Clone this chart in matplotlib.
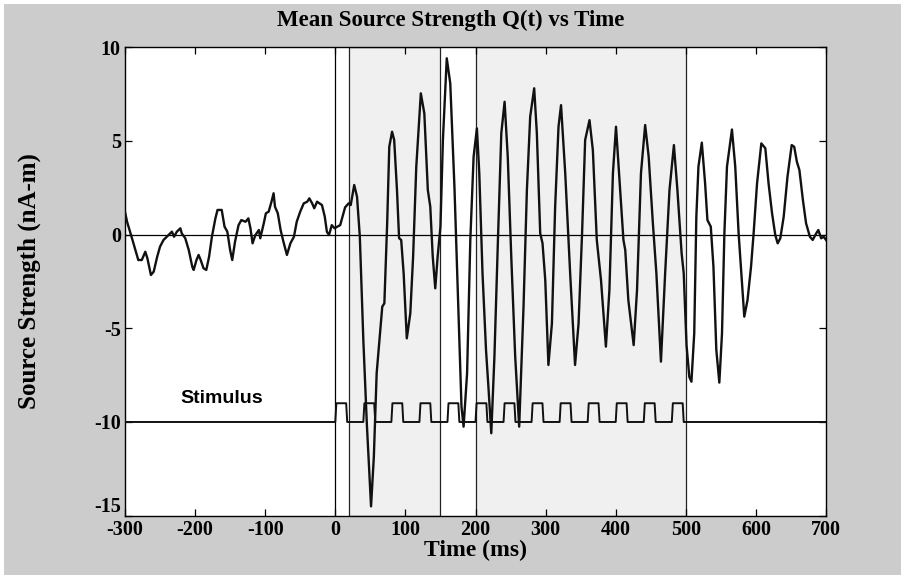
import matplotlib
matplotlib.use("Agg")
import matplotlib.pyplot as plt
from matplotlib.patches import Rectangle

plt.rcParams["axes.unicode_minus"] = False

# mean source strength Q(t) (ms, nA-m)
time_ms = [-300, -297, -290, -281, -276, -271, -268, -263, -259, -254, -250, -245,
           -238, -233, -230, -226, -221, -219, -214, -209, -204, -202, -198, -195,
           -192, -188, -184, -180, -176, -171, -168, -162, -158, -154, -150, -147,
           -143, -138, -134, -128, -124, -121, -118, -114, -109, -107, -102, -99,
           -95, -91, -88, -86, -82, -78, -74, -69, -64, -59, -55, -50, -45, -40,
           -37, -33, -30, -26, -19, -15, -12, -9, -5, -1, 2, 7, 14, 19, 22, 27,
           31, 35, 40, 45, 51, 55, 59, 67, 70, 74, 77, 81, 84, 88, 91, 94, 97.5,
           102, 107, 111, 115.5, 122, 127, 132, 135.5, 139, 142.6, 146, 150,
           153.5, 159, 164, 170, 176, 180, 183, 188, 192.6, 197.3, 202, 205.4,
           210, 215, 218.7, 222.5, 227, 232, 236.8, 241.5, 246, 251, 256.6, 262.3,
           268.5, 273.3, 278, 283.7, 287.5, 292.3, 295.6, 299.5, 304, 309, 313.6,
           318.4, 322, 328, 335, 342, 347, 352, 356.4, 362.6, 367.4, 373, 379,
           386, 391, 396, 400.4, 405.4, 411, 413.6, 418, 425.6, 430.4, 436, 442,
           447, 453, 458, 464.5, 470.5, 476.7, 483, 488, 494, 497, 501, 505, 508,
           512, 515, 518, 522.8, 527.5, 530.8, 535.6, 539.4, 543.5, 547.8, 551.6,
           555, 558.7, 565.8, 570.5, 575.3, 579.2, 583.4, 588, 593, 596.7, 601.6,
           607.7, 613.4, 618, 623, 627.6, 631, 634.8, 639.6, 645, 651, 654.6,
           658.4, 662, 667, 671.5, 677, 681, 686, 689, 693, 696.7, 700]
q_values = [1.22, 0.68, -0.2, -1.36, -1.36, -0.92, -1.27, -2.16, -1.98, -1.18, -0.65, -0.29,
            -0.03, 0.15, -0.12, 0.15, 0.33, 0.06, -0.2, -0.83, -1.72, -1.89, -1.36, -1.09,
            -1.36, -1.8, -1.89, -1.18, -0.12, 0.86, 1.31, 1.31, 0.42, 0.15, -0.83, -1.36,
            -0.38, 0.5, 0.77, 0.68, 0.86, 0.33, -0.47, -0.03, 0.24, -0.2, 0.6, 1.13,
            1.22, 1.75, 2.2, 1.48, 1.13, 0.24, -0.38, -1.09, -0.47, -0.12, 0.68, 1.22, 1.66, 1.75,
            1.93, 1.66, 1.4, 1.75, 1.57, 0.95, 0.15, -0.03, 0.5, 0.33, 0.4, 0.5, 1.45, 1.66, 1.57, 2.64,
            2.02, -0.12, -5.63, -10.1, -14.5, -11.85, -7.4, -3.85, -3.67, 0.6, 4.68, 5.48, 5.04, 2.37, -0.2, -0.29, -2.07,
            -5.54, -4.2, -1.18, 3.6, 7.53, 6.46, 2.37, 1.48, -1.18, -2.87, -1.18, 0.42,
            5.04, 9.4, 8.06, 2.5, -4.5, -9.18, -10.25, -7.4, -0.29, 4.15, 5.66, 3.26,
            -2.07, -6.16, -8.29, -10.6, -6.5, -0.29, 5.4, 7.08, 4.15, -1.18, -6.5, -10.25,
            -3.85, 2.37, 6.28, 7.8, 5.4, 0.06, -0.47, -2.43, -6.96, -4.74, 1.48,
            5.75, 6.9, 3.26, -2.07, -6.96, -4.74, 0.06, 5.04, 6.1, 4.5, -0.29, -2.43,
            -5.98, -2.96, 3.26, 5.75, 2.9, -0.29, -0.83, -3.5, -5.9, -2.96, 3.26, 5.84,
            4.15, 0.6, -2.07, -6.78, -2.07, 2.37, 4.77, 2.37, -1.0, -2.07, -5.9, -7.6, -7.85,
            -5.27, 0.95, 3.62, 4.9, 2.73, 0.77, 0.42, -1.72, -6.16, -7.9, -5.27,
            0.06, 3.62, 5.6, 3.62, 0.06, -2.07, -4.38, -3.5, -1.72, 0.06, 2.73,
            4.86, 4.6, 2.73, 1.13, -0.03, -0.47, -0.2, 0.95, 3.08, 4.77, 4.68,
            3.88, 3.44, 1.84, 0.6, -0.12, -0.29, 0.06, 0.24, -0.2, -0.12, -0.29]

# stimulus train: pulse onsets (ms), pulse length, levels
stim_onsets = [0, 40, 80, 120, 160, 200, 240, 280, 320, 360, 400, 440, 480]
stim_width = 17
stim_low = -10
stim_high = -9

# shaded analysis windows (ms)
windows = [(20, 150), (200, 500)]

xticks = [-300, -200, -100, 0, 100, 200, 300, 400, 500, 600, 700]
yticks = [-15, -10, -5, 0, 5, 10]

# build the step line of the stimulus from the onsets
stim_t = [-300]
stim_v = [stim_low]
for t0 in stim_onsets:
    stim_t += [t0, t0 + 1.5, t0 + stim_width - 1.5, t0 + stim_width]
    stim_v += [stim_low, stim_high, stim_high, stim_low]
stim_t.append(700)
stim_v.append(stim_low)

fig = plt.figure(figsize=(9.01, 5.77), dpi=100, facecolor="white")
# gray panel with a thin white margin at the top and left
fig.add_artist(Rectangle((4 / 901, 2 / 577), 897 / 901, 571 / 577,
                         transform=fig.transFigure, facecolor="#cccccc",
                         edgecolor="none", zorder=-10))

ax = fig.add_axes([0.1387, 0.1062, 0.7781, 0.8123])
ax.set_facecolor("white")

for lo, hi in windows:
    ax.add_patch(Rectangle((lo, -15), hi - lo, 25, facecolor="#f0f0f0",
                           edgecolor="#222222", linewidth=0.9, zorder=1))

ax.axhline(0, color="black", linewidth=0.9, zorder=2)
ax.axvline(0, color="black", linewidth=0.9, zorder=2)

ax.plot(stim_t, stim_v, color="#111111", linewidth=1.4, zorder=3)
ax.plot(time_ms, q_values, color="#111111", linewidth=1.7, zorder=4)

ax.text(-221, -9.2, "Stimulus", fontsize=14, fontweight="bold",
        family="Liberation Sans", ha="left", va="bottom", zorder=5)

ax.set_xlim(-300, 700)
ax.set_ylim(-15, 10)
ax.set_xticks(xticks)
ax.set_yticks(yticks)
# the bottom y label sits a little higher than its tick, drawn separately
ax.set_yticklabels([""] + [str(v) for v in yticks[1:]])
ax.tick_params(direction="in", length=5, width=0.9, top=True, right=True,
               labelsize=14.5, pad=3)
for lab in ax.get_xticklabels() + ax.get_yticklabels():
    lab.set_fontfamily("Liberation Serif")
    lab.set_fontweight("bold")
ax.annotate(str(yticks[0]), xy=(0, yticks[0]), xycoords=("axes fraction", "data"),
            xytext=(-3, 6), textcoords="offset points", ha="right", va="center",
            fontsize=14.5, fontweight="bold", family="Liberation Serif")
for sp in ax.spines.values():
    sp.set_linewidth(1.0)

ax.set_xlabel("Time (ms)", fontsize=17, fontweight="bold",
              family="Liberation Serif", labelpad=0)
ax.set_ylabel("Source Strength (nA-m)", fontsize=18, fontweight="bold",
              family="Liberation Serif", labelpad=38)
fig.text(0.5, 0.965, "Mean Source Strength Q(t) vs Time", ha="center", va="center",
         fontsize=16.5, fontweight="bold", family="Liberation Serif")

fig.savefig("out.png", dpi=100, facecolor=fig.get_facecolor())
